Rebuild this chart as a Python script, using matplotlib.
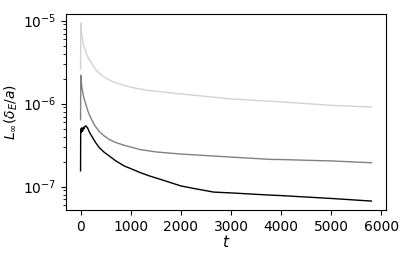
# Import necessary third-party libraries.
import numpy as np
import matplotlib
matplotlib.use("Agg")
import matplotlib.pyplot as plt

# Error curves (time, L_inf norm).
t_light = [0, 5, 15, 40, 70, 106, 140, 170, 206, 250, 306, 400, 506, 650,
           872, 1000, 1186, 1380, 2000, 3000, 4000, 5000, 5800]
err_light = [2.6e-6, 9.4e-6, 7.5e-6, 5.9e-6, 4.8e-6, 4.2e-6, 3.7e-6, 3.4e-6,
             3.2e-6, 2.85e-6, 2.56e-6, 2.25e-6, 2.03e-6, 1.83e-6, 1.66e-6,
             1.58e-6, 1.5e-6, 1.44e-6, 1.31e-6, 1.14e-6, 1.05e-6, 0.955e-6,
             0.91e-6]

t_mid = [0, 5, 12, 20, 40, 70, 106, 150, 206, 280, 373, 470, 573, 700, 873,
         1000, 1186, 1500, 2000, 3000, 3786, 4000, 5000, 5800]
err_mid = [6.4e-7, 2.2e-6, 1.9e-6, 1.7e-6, 1.4e-6, 1.15e-6, 9.8e-7, 8.0e-7,
           6.7e-7, 5.5e-7, 4.6e-7, 4.1e-7, 3.7e-7, 3.4e-7, 3.15e-7, 3.0e-7,
           2.8e-7, 2.62e-7, 2.47e-7, 2.27e-7, 2.13e-7, 2.12e-7, 2.04e-7,
           1.94e-7]

t_dark = [0, 3, 10, 18, 26, 34, 42, 55, 70, 85, 106, 140, 180, 240, 300,
          373, 470, 573, 700, 873, 1000, 1186, 1366, 1600, 2000, 2300, 2520,
          2650, 3000, 3786, 4000, 5000, 5800]
err_dark = [1.55e-7, 4.9e-7, 4.5e-7, 5.1e-7, 4.6e-7, 5.0e-7, 4.7e-7, 5.2e-7,
            5.0e-7, 5.3e-7, 5.4e-7, 5.1e-7, 4.5e-7, 3.9e-7, 3.4e-7, 2.95e-7,
            2.6e-7, 2.34e-7, 2.05e-7, 1.77e-7, 1.65e-7, 1.48e-7, 1.35e-7,
            1.22e-7, 1.02e-7, 9.4e-8, 8.9e-8, 8.6e-8, 8.4e-8, 7.9e-8, 7.8e-8,
            7.2e-8, 6.7e-8]

# Plotting canvas.
fig = plt.figure(figsize=(4.11, 2.57), dpi=100)
ax = fig.add_axes([0.1606, 0.183, 0.7784, 0.7625])

ax.plot(t_light, err_light, color="#d3d3d3", linewidth=1.0)
ax.plot(t_mid, err_mid, color="#808080", linewidth=1.0)
ax.plot(t_dark, err_dark, color="black", linewidth=1.0)

ax.set_yscale("log")
ax.set_xticks(np.arange(0, 7000, 1000))
ax.tick_params(labelsize=10)

ax.set_xlabel(r"$t$", fontsize=11, labelpad=0)
ax.set_ylabel(r"$L_{\infty}(\delta_E/a)$", fontsize=10, labelpad=2)

fig.savefig("out.png", dpi=100)
